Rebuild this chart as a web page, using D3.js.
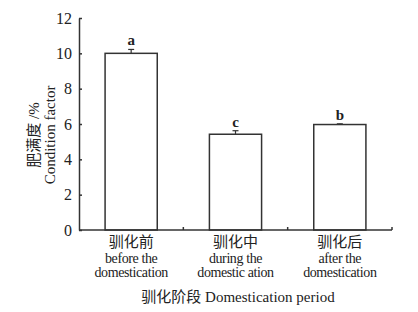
<!DOCTYPE html>
<html>
<head>
<meta charset="utf-8">
<script src="https://cdn.jsdelivr.net/npm/d3@7"></script>
<style>
  body { margin: 0; background: #fff; }
  text { font-family: "Liberation Serif", "Noto Sans CJK SC", serif; fill: #222; }
</style>
</head>
<body>
<svg id="chart" width="418" height="312"></svg>
<script>
const categoriesZh = ["驯化前", "驯化中", "驯化后"];
const categoriesEn1 = ["before the", "during the", "after the"];
const categoriesEn2 = ["domestication", "domestic ation", "domestication"];
const values = [10.0, 5.42, 5.97];
const errors = [0.22, 0.2, 0.04];
const letters = ["a", "c", "b"];
const yTicks = [0, 2, 4, 6, 8, 10, 12];

const svg = d3.select("#chart");
const margin = { left: 79, right: 26, top: 18, bottom: 82 };
const width = 418, height = 312;

const x = d3.scaleBand()
    .domain(d3.range(values.length))
    .range([margin.left, width - margin.right])
    .padding(0);

const y = d3.scaleLinear()
    .domain([0, 12])
    .range([height - margin.bottom, margin.top]);

const ink = "#333";

// bars
const barW = x.bandwidth() * 0.5;
svg.selectAll(".bar")
    .data(values)
    .enter().append("rect")
    .attr("class", "bar")
    .attr("x", (d, i) => x(i) + (x.bandwidth() - barW) / 2)
    .attr("y", d => y(d))
    .attr("width", barW)
    .attr("height", d => y(0) - y(d))
    .attr("fill", "#fff")
    .attr("stroke", ink)
    .attr("stroke-width", 1.5);

// error bars (upper only)
const cx = i => x(i) + x.bandwidth() / 2;
svg.selectAll(".err")
    .data(values)
    .enter().append("line")
    .attr("x1", (d, i) => cx(i))
    .attr("x2", (d, i) => cx(i))
    .attr("y1", d => y(d))
    .attr("y2", (d, i) => y(d + errors[i]))
    .attr("stroke", ink)
    .attr("stroke-width", 1.2);
svg.selectAll(".cap")
    .data(values)
    .enter().append("line")
    .attr("x1", (d, i) => cx(i) - 3)
    .attr("x2", (d, i) => cx(i) + 3)
    .attr("y1", (d, i) => y(d + errors[i]))
    .attr("y2", (d, i) => y(d + errors[i]))
    .attr("stroke", ink)
    .attr("stroke-width", 1.2);

// significance letters
svg.selectAll(".sig")
    .data(letters)
    .enter().append("text")
    .attr("x", (d, i) => cx(i))
    .attr("y", (d, i) => y(values[i] + errors[i]) - 4)
    .attr("text-anchor", "middle")
    .attr("font-size", 15)
    .attr("font-weight", "bold")
    .text(d => d);

// y axis
const yAxis = svg.append("g")
    .attr("transform", `translate(${margin.left},0)`)
    .call(d3.axisLeft(y).tickValues(yTicks).tickSizeInner(-3).tickSizeOuter(0).tickPadding(7));
yAxis.selectAll("line, path").attr("stroke", ink).attr("stroke-width", 1.5);
yAxis.selectAll("text")
    .attr("font-size", 16)
    .attr("font-family", "Liberation Serif, serif")
    .attr("fill", "#222");

// x axis with ticks at band boundaries
const xAxis = svg.append("g")
    .attr("transform", `translate(0,${y(0)})`);
xAxis.append("line")
    .attr("x1", margin.left).attr("x2", width - margin.right)
    .attr("stroke", ink).attr("stroke-width", 1.5);
xAxis.selectAll(".xt")
    .data(d3.range(1, values.length + 1))
    .enter().append("line")
    .attr("x1", i => x(i - 1) + x.bandwidth())
    .attr("x2", i => x(i - 1) + x.bandwidth())
    .attr("y1", 0).attr("y2", -3)
    .attr("stroke", ink).attr("stroke-width", 1.5);

const lab = svg.selectAll(".xl")
    .data(categoriesZh)
    .enter().append("g")
    .attr("transform", (d, i) => `translate(${cx(i)},${y(0)})`);
lab.append("text")
    .attr("y", 17)
    .attr("text-anchor", "middle")
    .attr("font-size", 15)
    .attr("font-family", "Noto Sans CJK SC, sans-serif")
    .text(d => d);
lab.append("text")
    .attr("y", 33)
    .attr("text-anchor", "middle")
    .attr("font-size", 14)
    .attr("letter-spacing", -0.4)
    .text((d, i) => categoriesEn1[i]);
lab.append("text")
    .attr("y", 47)
    .attr("text-anchor", "middle")
    .attr("font-size", 14)
    .attr("letter-spacing", -0.4)
    .text((d, i) => categoriesEn2[i]);

// axis titles
svg.append("text")
    .attr("x", 238)
    .attr("y", 302)
    .attr("text-anchor", "middle")
    .attr("font-size", 15)
    .text("驯化阶段 Domestication period");

const yt = svg.append("g")
    .attr("transform", `translate(0,${(y(0) + y(12)) / 2 + 11}) rotate(-90)`);
yt.append("text")
    .attr("x", 0).attr("y", 39)
    .attr("text-anchor", "middle")
    .attr("font-size", 15)
    .text("肥满度 /%");
yt.append("text")
    .attr("x", 0).attr("y", 55)
    .attr("text-anchor", "middle")
    .attr("font-size", 15)
    .text("Condition factor");
</script>
</body>
</html>
